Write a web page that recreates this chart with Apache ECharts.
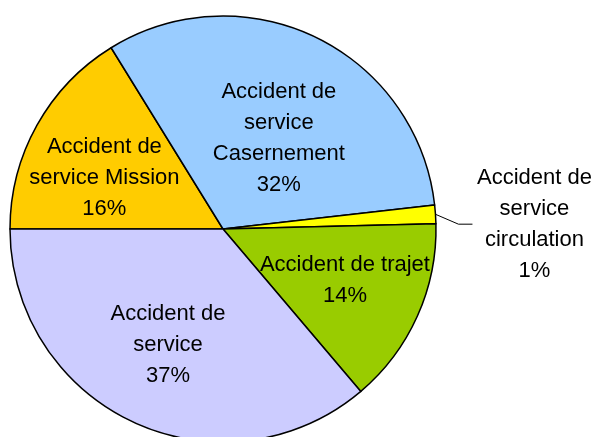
<!DOCTYPE html>
<html>
<head>
<meta charset="utf-8">
<script src="https://cdn.jsdelivr.net/npm/echarts@6/dist/echarts.min.js"></script>
<style>
  html, body { margin: 0; padding: 0; background: #fff; }
  #chart { width: 595px; height: 437px; }
</style>
</head>
<body>
<div id="chart"></div>
<script>
// slices, clockwise from 9 o'clock
const categories = [
  'Accident de\nservice Mission',
  'Accident de\nservice\nCasernement',
  'Accident de\nservice\ncirculation',
  'Accident de trajet',
  'Accident de\nservice'
];
// slice shares
const shares = [16.2, 32.0, 1.4, 14.2, 36.2];
// percentages printed on the labels
const percentLabels = ['16%', '32%', '1%', '14%', '37%'];
const colors = ['#FFCC00', '#99CCFF', '#FFFF00', '#99CC00', '#CCCCFF'];

// small nudges so labels sit where the original put them
const labelNudge = [[-23, 2], [8, 8], [2, 11], [22, 7], [-9, 17]];
const OUTSIDE = 2; // the thin slice gets its label outside

const FONT = 'Liberation Sans, Arial, sans-serif';

const chart = echarts.init(document.getElementById('chart'));

const data = categories.map((name, i) => {
  const item = { name, value: shares[i], itemStyle: { color: colors[i] } };
  if (i === OUTSIDE) {
    item.label = { position: 'outside', overflow: 'none', width: 124 };
    item.labelLine = {
      show: true,
      smooth: false,
      length: 16,
      length2: 14,
      lineStyle: { color: '#000', width: 1 }
    };
  }
  return item;
});

chart.setOption({
  backgroundColor: '#fff',
  animation: false,
  series: [
    {
      type: 'pie',
      center: [223, 229],
      radius: 213,
      startAngle: 180,
      clockwise: true,
      bleedMargin: 0,
      data,
      itemStyle: {
        borderColor: '#000',
        borderWidth: 1.5
      },
      label: {
        position: 'inside',
        rotate: 0,
        formatter: p => {
          const lines = p.name.split('\n').concat(percentLabels[p.dataIndex]);
          if (p.dataIndex === OUTSIDE) {
            return lines.map(s => '{c|' + s + '}').join('\n');
          }
          return lines.join('\n');
        },
        color: '#000',
        fontSize: 22,
        lineHeight: 31,
        fontFamily: FONT,
        align: 'center',
        rich: {
          c: { width: 124, align: 'center', color: '#000', fontSize: 22, lineHeight: 31, fontFamily: FONT }
        }
      },
      labelLine: { show: false },
      labelLayout: params => {
        const [dx, dy] = labelNudge[params.dataIndex];
        if (params.dataIndex === OUTSIDE) {
          // move the label box so the leader line gets redrawn to it
          const r = params.labelRect;
          return { x: r.x + dx, y: r.y + dy, align: 'left', verticalAlign: 'top' };
        }
        return { dx, dy };
      },
      emphasis: { disabled: true }
    }
  ]
});
</script>
</body>
</html>
